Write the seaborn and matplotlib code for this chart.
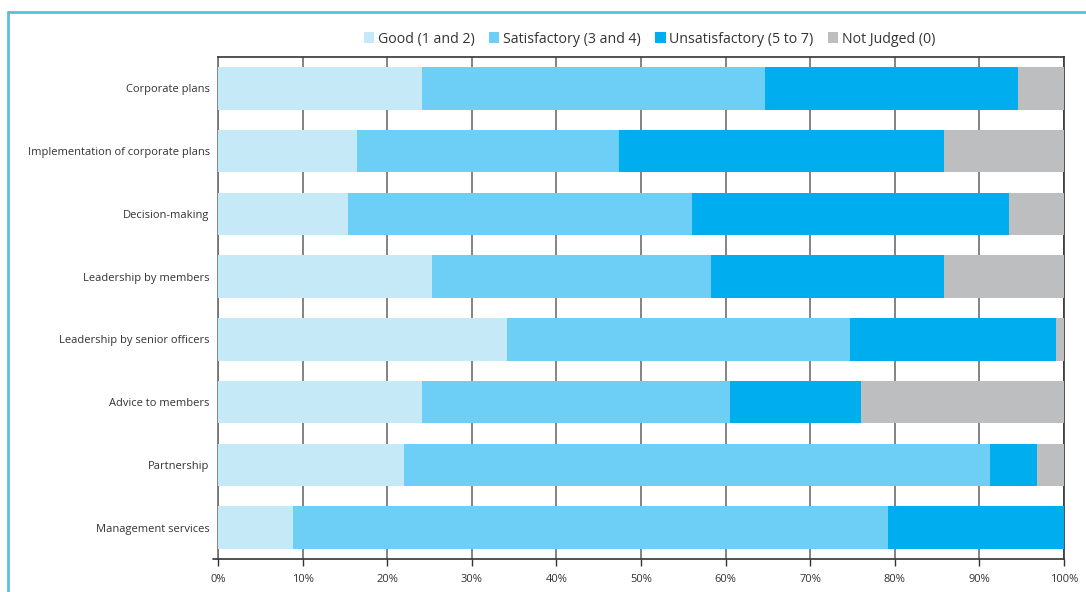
import matplotlib
matplotlib.use("Agg")
import matplotlib.pyplot as plt
from matplotlib.patches import Patch
from matplotlib.lines import Line2D
import numpy as np
import pandas as pd
import seaborn as sns

categories = [
    "Corporate plans",
    "Implementation of corporate plans",
    "Decision-making",
    "Leadership by members",
    "Leadership by senior officers",
    "Advice to members",
    "Partnership",
    "Management services",
]
good = [24.1, 16.4, 15.4, 25.3, 34.2, 24.1, 22.0, 8.9]
satisfactory = [40.6, 31.0, 40.6, 33.0, 40.5, 36.4, 69.3, 70.3]
unsatisfactory = [29.9, 38.4, 37.5, 27.5, 24.4, 15.5, 5.5, 20.8]
not_judged = [5.4, 14.2, 6.5, 14.2, 0.9, 24.0, 3.2, 0.0]

series_names = ["Good (1 and 2)", "Satisfactory (3 and 4)",
                "Unsatisfactory (5 to 7)", "Not Judged (0)"]
colors = ["#c6e9f8", "#6dcff6", "#00aeef", "#bcbec0"]
x_ticks = [0, 10, 20, 30, 40, 50, 60, 70, 80, 90, 100]

sns.set_theme(style="white")
plt.rcParams["font.family"] = ["Open Sans", "DejaVu Sans"]

df = pd.DataFrame({
    "category": categories,
    series_names[0]: good,
    series_names[1]: satisfactory,
    series_names[2]: unsatisfactory,
    series_names[3]: not_judged,
})
cum = df[series_names].cumsum(axis=1)
cum["category"] = df["category"]

fig = plt.figure(figsize=(10.86, 5.92), dpi=100)
ax = fig.add_axes([0.2007, 0.0557, 0.779, 0.848])

# stacked bars: draw cumulative totals from the outermost segment inward
for name, color in reversed(list(zip(series_names, colors))):
    sns.barplot(data=cum, x=name, y="category", orient="h", color=color,
                width=0.68, ax=ax, saturation=1, edgecolor="none",
                linewidth=0, zorder=3)

ax.set_xlim(0, 100)
ax.set_ylim(len(categories) - 0.5, -0.5)
ax.set_xticks(x_ticks)
ax.set_xticklabels([f"{t}%" for t in x_ticks], fontsize=8, color="#333333")
ax.tick_params(axis="y", labelsize=8, labelcolor="#333333", length=0, pad=6)
ax.tick_params(axis="x", direction="out", length=5, width=1, color="#333333",
               bottom=True, pad=6)
ax.set_xlabel("")
ax.set_ylabel("")
ax.grid(axis="x", color="#6e6e6e", linewidth=1.2, zorder=0)
ax.set_axisbelow(True)

for side in ["top", "right", "bottom"]:
    ax.spines[side].set_visible(True)
    ax.spines[side].set_color("#333333")
    ax.spines[side].set_linewidth(1.2)
ax.spines["left"].set_color("#6e6e6e")
ax.spines["left"].set_linewidth(1.2)

# short extension of the x axis line to the left of 0%
ax.plot([-0.6, 0], [0, 0], transform=ax.get_xaxis_transform(),
        color="#333333", linewidth=1.2, clip_on=False)

handles = [Patch(facecolor=c, edgecolor="none", label=n)
           for n, c in zip(series_names, colors)]
fig.legend(handles=handles, loc="center", bbox_to_anchor=(0.598, 0.934),
           ncol=4, frameon=False, fontsize=10.2, handlelength=0.75,
           handleheight=0.75, handletextpad=0.25, columnspacing=1.0,
           labelcolor="#333333")

# light blue frame around the figure
frame_color = "#55c2db"
fig.add_artist(Line2D([0.0074, 1.0], [0.9797, 0.9797], color=frame_color,
                      linewidth=2, transform=fig.transFigure))
fig.add_artist(Line2D([0.0074, 0.0074], [0.0, 0.9797], color=frame_color,
                      linewidth=2, transform=fig.transFigure))

fig.savefig("out.png", dpi=100)
